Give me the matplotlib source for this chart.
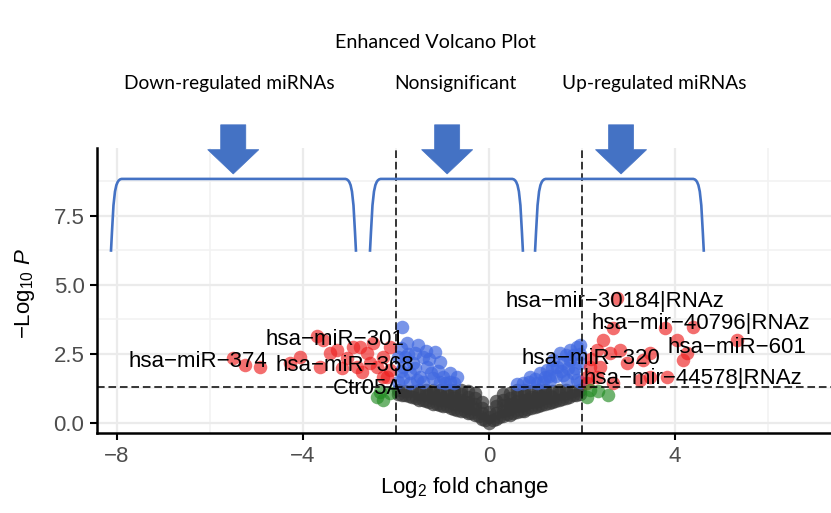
import matplotlib
matplotlib.use("Agg")
import matplotlib.pyplot as plt
from matplotlib.path import Path
from matplotlib.patches import PathPatch, Polygon

plt.rcParams["font.family"] = ["Liberation Sans", "DejaVu Sans"]
plt.rcParams["mathtext.fontset"] = "custom"
plt.rcParams["mathtext.rm"] = "Liberation Sans"
plt.rcParams["mathtext.it"] = "Liberation Sans:italic"

# ---------------- data ----------------
gray_x = [-1.95, -1.95, -1.8, -1.8, -1.65, -1.65, -1.5, -1.5, -1.5,
          -1.35, -1.35, -1.35, -1.2, -1.2, -1.2, -1.2, -1.05, -1.05, -1.05, -1.05,
          -0.9, -0.9, -0.9, -0.9, -0.75, -0.75, -0.75, -0.75, -0.75,
          -0.6, -0.6, -0.6, -0.6, -0.6, -0.45, -0.45, -0.45, -0.45, -0.45,
          -0.3, -0.3, -0.3, -0.3, -0.3, -0.15, -0.15, -0.15, -0.15,
          0.0, 0.0, 0.0, 0.15, 0.15, 0.15, 0.15,
          0.3, 0.3, 0.3, 0.3, 0.3, 0.45, 0.45, 0.45, 0.45, 0.45,
          0.6, 0.6, 0.6, 0.6, 0.6, 0.75, 0.75, 0.75, 0.75, 0.75,
          0.9, 0.9, 0.9, 0.9, 1.05, 1.05, 1.05, 1.05, 1.2, 1.2, 1.2, 1.2,
          1.35, 1.35, 1.35, 1.5, 1.5, 1.5, 1.65, 1.65, 1.65, 1.8, 1.8, 1.95, 1.95,
          -1.88, -1.72, -1.58, -1.42, -1.28, -1.12, -0.98, -0.82, -0.68, -0.52,
          -0.38, -0.22, -0.08, 0.08, 0.22, 0.38, 0.52, 0.68, 0.82, 0.98,
          1.12, 1.28, 1.42, 1.58, 1.72, 1.88,
          -1.28, -1.12, -0.98, -0.82, -0.68, -0.52, -0.38, 0.38, 0.52, 0.68,
          0.82, 0.98, 1.12, 1.28]
gray_y = [1.05, 1.2, 1.0, 1.15, 0.95, 1.15, 0.85, 1.05, 1.2,
          0.8, 1.0, 1.2, 0.7, 0.9, 1.1, 1.2, 0.65, 0.85, 1.05, 1.2,
          0.6, 0.8, 1.0, 1.2, 0.5, 0.7, 0.9, 1.1, 1.2,
          0.45, 0.65, 0.85, 1.05, 1.2, 0.35, 0.55, 0.75, 0.95, 1.15,
          0.3, 0.5, 0.7, 0.9, 1.1, 0.15, 0.35, 0.55, 0.75,
          0.0, 0.2, 0.4, 0.15, 0.35, 0.6, 0.8,
          0.25, 0.45, 0.65, 0.85, 1.05, 0.3, 0.5, 0.7, 0.9, 1.1,
          0.4, 0.6, 0.8, 1.0, 1.2, 0.45, 0.65, 0.85, 1.05, 1.2,
          0.55, 0.75, 0.95, 1.15, 0.6, 0.8, 1.0, 1.2, 0.7, 0.9, 1.1, 1.2,
          0.75, 0.95, 1.15, 0.85, 1.05, 1.2, 0.9, 1.1, 1.2, 1.0, 1.15, 1.05, 1.2,
          1.0, 0.97, 0.9, 0.82, 0.75, 0.68, 0.62, 0.55, 0.48, 0.42,
          0.35, 0.25, 0.1, 0.1, 0.22, 0.32, 0.38, 0.45, 0.5, 0.58,
          0.65, 0.72, 0.8, 0.88, 0.95, 1.02,
          1.0, 0.95, 0.9, 0.85, 0.8, 0.75, 0.65, 0.6, 0.7, 0.75,
          0.85, 0.9, 0.95, 1.0]

blue_x = [-1.87, -1.76, -1.53, -1.16, -1.42, -1.05, -1.81, -1.63, -1.33, -0.84,
          -0.69, -0.99, -1.7, -1.48, -1.2, -1.85, -1.42, -1.05, -0.84, -1.7, -1.85,
          -1.6, -1.3, -1.9, -1.95, -1.9, -1.55, -1.25, -1.1, -0.95, -0.75, -1.6,
          -1.35, -1.95, -1.75,
          0.73, 0.88, 1.1, 1.25, 1.31, 1.46, 1.59, 1.74, 1.89, 1.96, 1.81, 1.68,
          1.03, 1.96, 1.53, 1.38, 1.16, 1.89, 1.74, 1.6, 1.3, 0.85, 1.0, 1.2,
          1.45, 1.55, 1.7, 1.85, 1.95, 1.8, 1.65, 1.35, 1.95, 0.6]
blue_y = [3.48, 2.9, 2.83, 2.57, 2.39, 2.21, 2.39, 2.17, 2.03, 1.81,
          1.67, 1.67, 1.81, 1.67, 1.63, 1.63, 1.49, 1.49, 1.49, 1.45, 2.03,
          2.55, 2.3, 2.7, 1.5, 1.9, 1.55, 1.8, 1.9, 1.45, 1.45, 2.0,
          2.6, 2.4, 2.5,
          1.45, 1.67, 1.81, 1.92, 1.56, 2.03, 2.17, 2.64, 2.75, 2.83, 1.81, 1.56,
          1.45, 2.17, 2.53, 2.28, 1.49, 1.56, 2.28, 1.75, 1.7, 1.5, 1.6, 1.65,
          1.7, 1.9, 2.0, 2.0, 1.5, 2.45, 2.45, 2.0, 2.5, 1.42]

red_x = [-5.5, -5.25, -4.92, -4.28, -4.06, -3.63, -3.57, -3.42, -3.27, -3.05,
         -2.84, -2.62, -2.49, -2.41, -2.28, -2.13, -2.13, -2.28, -2.56, -2.73,
         -3.16, -2.92, -3.7, -2.19, -2.77,
         2.75, 2.67, 3.78, 4.39, 2.45, 2.32, 2.6, 2.82, 2.17, 2.39,
         2.97, 3.31, 3.46, 4.04, 4.17, 4.26, 3.83, 3.25, 2.67, 2.32,
         2.1, 3.46, 5.33, 2.2, 2.1]
red_y = [2.35, 2.1, 2.03, 2.17, 2.39, 2.03, 3.0, 2.53, 2.64, 2.35,
         2.03, 2.53, 2.9, 2.03, 2.39, 2.75, 1.92, 1.67, 2.17, 1.85,
         1.99, 2.75, 3.15, 1.67, 2.75,
         4.53, 3.44, 3.44, 3.48, 3.0, 2.64, 2.53, 2.64, 2.03, 2.03,
         2.17, 2.28, 2.53, 3.0, 2.28, 2.53, 1.67, 1.56, 1.45, 1.67,
         1.67, 1.67, 3.0, 2.3, 1.45]

green_x = [-2.41, -2.28, -2.13, -2.35, 2.17, 2.1, 2.34, 2.56]
green_y = [0.94, 0.83, 1.09, 1.12, 1.2, 0.94, 1.15, 1.01]

label_text = ["hsa-miR-374", "hsa-miR-301", "hsa-miR-368", "Ctr05A",
              "hsa-mir-30184|RNAz", "hsa-mir-40796|RNAz", "hsa-miR-601",
              "hsa-miR-320", "hsa-mir-44578|RNAz"]
label_x = [-6.26, -3.32, -3.1, -2.61, 2.71, 4.56, 5.34, 2.19, 4.38]
label_y = [2.03, 2.83, 1.88, 1.05, 4.2, 3.4, 2.54, 2.14, 1.41]

fc_cut = 2.0
p_cut = 1.3

groups = ["Down-regulated miRNAs", "Nonsignificant", "Up-regulated miRNAs"]
bracket_left = [-8.13, -2.56, 0.99]
bracket_right = [-2.86, 0.73, 4.62]
arrow_x = [-5.5, -0.9, 2.84]
group_label_px = [229, 455, 654]

BLUE = "#4472C4"

fig = plt.figure(figsize=(8.31, 5.13), dpi=100)
ax = fig.add_axes([97 / 831, 80 / 513, 734 / 831, 285 / 513])

ms = 95
ax.scatter(gray_x, gray_y, s=ms, color="#383838", alpha=0.72, lw=0, zorder=3)
ax.scatter(blue_x, blue_y, s=ms, color="#4169E1", alpha=0.7, lw=0, zorder=3)
ax.scatter(red_x, red_y, s=ms, color="#EE2020", alpha=0.65, lw=0, zorder=3)
ax.scatter(green_x, green_y, s=ms, color="#228B22", alpha=0.65, lw=0, zorder=3)

dash = (0, (5, 2.5))
ax.axhline(p_cut, color="black", lw=1.1, ls=dash, zorder=4)
ax.axvline(-fc_cut, color="black", lw=1.1, ls=dash, zorder=4)
ax.axvline(fc_cut, color="black", lw=1.1, ls=dash, zorder=4)

for t, x, y in zip(label_text, label_x, label_y):
    ax.text(x, y, t.replace("-", "\u2212"), ha="center", va="baseline",
            fontsize=16, color="black", zorder=5)

# brackets: nearly straight sides, small rounded corners
y_bot, y_top = 6.2, 8.84
for x0, x1 in zip(bracket_left, bracket_right):
    verts = [(x0, y_bot), (x0 + 0.06, y_bot + 1.9), (x0 + 0.06, y_top),
             (x0 + 0.24, y_top),
             (x1 - 0.24, y_top),
             (x1 - 0.06, y_top), (x1 - 0.06, y_bot + 1.9), (x1, y_bot)]
    codes = [Path.MOVETO, Path.CURVE4, Path.CURVE4, Path.CURVE4,
             Path.LINETO,
             Path.CURVE4, Path.CURVE4, Path.CURVE4]
    ax.add_patch(PathPatch(Path(verts, codes), fill=False, edgecolor=BLUE,
                           lw=1.9, zorder=6, clip_on=False))

# block arrows
for cx in arrow_x:
    pts = [(cx - 0.27, 10.8), (cx + 0.27, 10.8), (cx + 0.27, 9.9),
           (cx + 0.55, 9.9), (cx, 9.02), (cx - 0.55, 9.9), (cx - 0.27, 9.9)]
    ax.add_patch(Polygon(pts, closed=True, facecolor=BLUE, edgecolor=BLUE,
                         lw=0.5, zorder=6, clip_on=False))

ax.set_xlim(-8.43, 7.355)
ax.set_ylim(-0.362, 9.96)
ax.set_xticks([-8, -4, 0, 4])
ax.set_xticks([-6, -2, 2, 6], minor=True)
ax.set_yticks([0, 2.5, 5, 7.5])
ax.set_yticklabels(["0.0", "2.5", "5.0", "7.5"])
ax.set_yticks([1.25, 3.75, 6.25, 8.75], minor=True)
ax.grid(which="major", color="#ebebeb", lw=1.6, zorder=0)
ax.grid(which="minor", color="#f2f2f2", lw=1.2, zorder=0)
ax.set_axisbelow(True)
for s in ["top", "right"]:
    ax.spines[s].set_visible(False)
for s in ["left", "bottom"]:
    ax.spines[s].set_linewidth(1.8)
    ax.spines[s].set_color("black")
ax.tick_params(which="major", length=5, width=1.5, color="black",
               labelsize=16, labelcolor="#4d4d4d", pad=4)
ax.tick_params(which="minor", length=0)

ax.set_xlabel(r"$\mathrm{Log}_{2}$ fold change", fontsize=16, labelpad=6)
fig.text(25 / 831, 1 - 293 / 513, r"$-\mathrm{Log}_{10}\ \mathit{P}$",
         rotation=90, ha="center", va="center", fontsize=16)

# header texts
fig.text(435 / 831, 1 - 42 / 513, "Enhanced Volcano Plot", ha="center",
         va="center", fontsize=14.2, family=["Lato", "DejaVu Sans"])
for g, px in zip(groups, group_label_px):
    fig.text(px / 831, 1 - 84 / 513, g, ha="center", va="center",
             fontsize=13.8, family=["Lato", "DejaVu Sans"])

fig.savefig("out.png", dpi=100, facecolor="white")
